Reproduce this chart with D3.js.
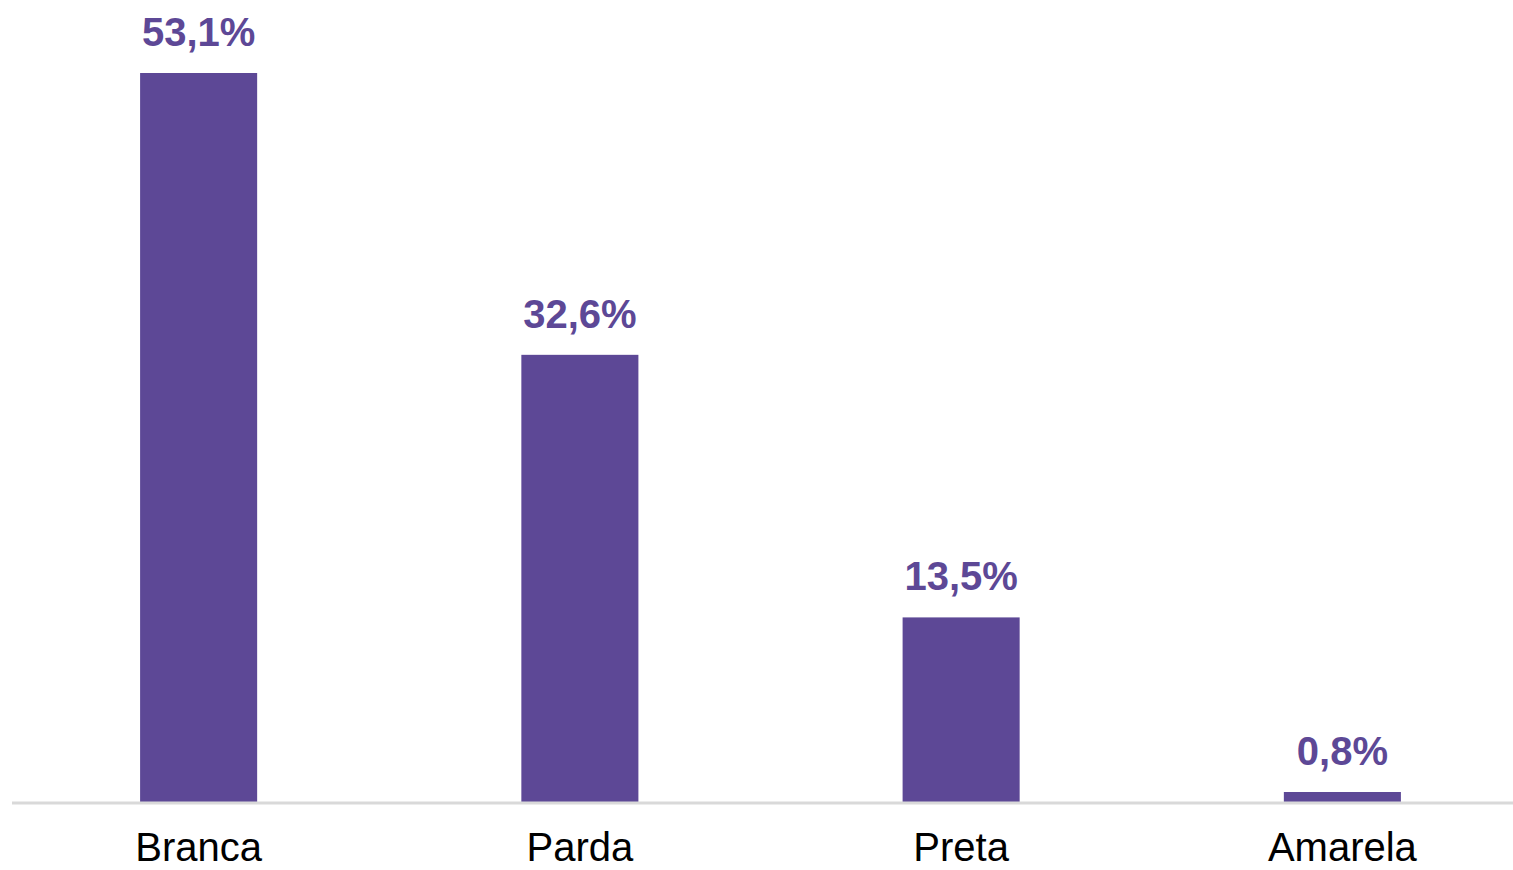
<script src="https://d3js.org/d3.v7.min.js"></script>
<style>
  body { margin: 0; background: #fff; }
  text { font-family: "Liberation Sans", Arial, sans-serif; }
</style>
<body>
  <svg width="1513" height="870"></svg>
</body>
<script>
  const categories = ['Branca', 'Parda', 'Preta', 'Amarela'];
  const values = [53.1, 32.6, 13.5, 0.8];
  const labels = ['53,1%', '32,6%', '13,5%', '0,8%'];

  const svg = d3.select('svg');
  const baseY = 803;

  const x = d3.scaleBand()
    .domain(categories)
    .range([8, 1533])
    .paddingInner(0.693)
    .paddingOuter(0.3465);

  const y = d3.scaleLinear()
    .domain([0, 53.1])
    .range([baseY, 73]);

  const data = categories.map((c, i) => ({cat: c, v: values[i], lab: labels[i]}));

  // bars
  svg.selectAll('rect.bar').data(data)
    .enter().append('rect')
    .attr('class', 'bar')
    .attr('x', d => x(d.cat))
    .attr('y', d => y(d.v))
    .attr('width', x.bandwidth())
    .attr('height', d => baseY - y(d.v))
    .attr('fill', '#5d4896');

  // baseline
  svg.append('line')
    .attr('x1', 12).attr('x2', 1513)
    .attr('y1', baseY).attr('y2', baseY)
    .attr('stroke', '#d9d9d9')
    .attr('stroke-width', 3);

  // value labels
  svg.selectAll('text.val').data(data)
    .enter().append('text')
    .attr('class', 'val')
    .attr('x', d => x(d.cat) + x.bandwidth() / 2)
    .attr('y', d => y(d.v) - 27)
    .attr('text-anchor', 'middle')
    .attr('font-size', 40)
    .attr('font-weight', 'bold')
    .attr('fill', '#5d4896')
    .text(d => d.lab);

  // category labels
  svg.selectAll('text.cat').data(data)
    .enter().append('text')
    .attr('class', 'cat')
    .attr('x', d => x(d.cat) + x.bandwidth() / 2)
    .attr('y', 861)
    .attr('text-anchor', 'middle')
    .attr('font-size', 40)
    .attr('fill', '#000')
    .text(d => d.cat);
</script>
